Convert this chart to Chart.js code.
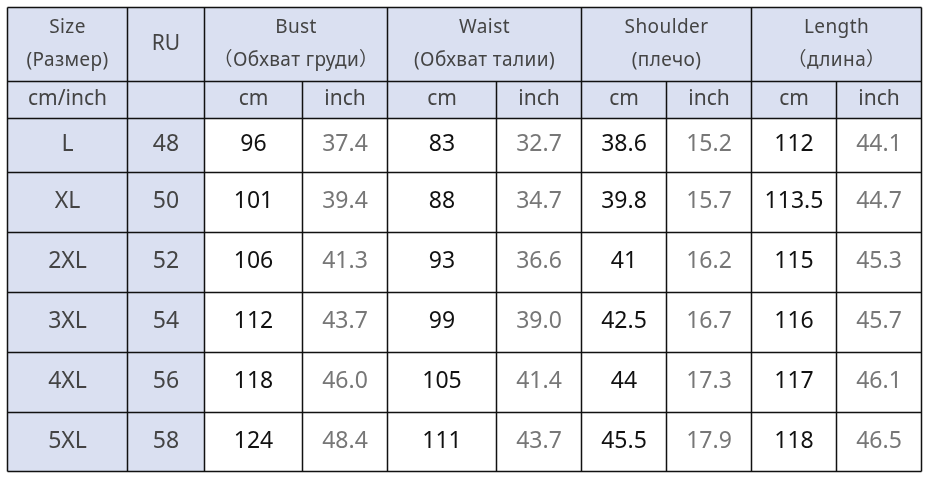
<!DOCTYPE html>
<html lang="ru">
  <head>
    <meta charset="utf-8" />
    <title>Size chart</title>
    <script src="https://cdn.jsdelivr.net/npm/chart.js"></script>
    <style>
      html, body { margin: 0; padding: 0; background: #fff; }
      canvas { display: block; }
    </style>
  </head>
  <body>
    <canvas id="table" width="932" height="481"></canvas>
    <script>
      // table content
      var groupTitles = ["Bust", "Waist", "Shoulder", "Length"];
      var groupSubtitles = ["（Обхват груди）", "(Обхват талии)", "(плечо)", "（длина）"];
      var unitLabels = ["cm", "inch"];
      var sizes = ["L", "XL", "2XL", "3XL", "4XL", "5XL"];
      var ru = [48, 50, 52, 54, 56, 58];
      var bustCm = [96, 101, 106, 112, 118, 124];
      var bustInch = [37.4, 39.4, 41.3, 43.7, 46.0, 48.4];
      var waistCm = [83, 88, 93, 99, 105, 111];
      var waistInch = [32.7, 34.7, 36.6, 39.0, 41.4, 43.7];
      var shoulderCm = [38.6, 39.8, 41, 42.5, 44, 45.5];
      var shoulderInch = [15.2, 15.7, 16.2, 16.7, 17.3, 17.9];
      var lengthCm = [112, 113.5, 115, 116, 117, 118];
      var lengthInch = [44.1, 44.7, 45.3, 45.7, 46.1, 46.5];

      var measures = [
        [bustCm, bustInch],
        [waistCm, waistInch],
        [shoulderCm, shoulderInch],
        [lengthCm, lengthInch],
      ];

      // grid edges in scale units
      var colEdges = [7.5, 127.5, 204.5, 302.5, 387.5, 496.5, 581.5, 666.5, 751.5, 836.5, 921.5];
      var rowEdges = [7.5, 81.5, 118.5, 172.5, 232.5, 292.5, 352.5, 412.5, 471.5];

      var FONT = "'Noto Sans', 'Noto Sans CJK SC', sans-serif";
      var HEAD_BG = "#dae0f1";

      var tablePlugin = {
        id: "sizeTable",
        beforeDraw: function (chart) {
          var ctx = chart.ctx;
          var xs = chart.scales.x, ys = chart.scales.y;
          var X = function (v) { return xs.getPixelForValue(v); };
          var Y = function (v) { return ys.getPixelForValue(v); };

          function fillCell(c0, c1, r0, r1, color) {
            ctx.fillStyle = color;
            ctx.fillRect(X(colEdges[c0]), Y(rowEdges[r0]),
              X(colEdges[c1]) - X(colEdges[c0]), Y(rowEdges[r1]) - Y(rowEdges[r0]));
          }
          function text(str, c0, c1, yv, size, color, spacing) {
            ctx.font = size + "px " + FONT;
            ctx.letterSpacing = (spacing || 0) + "px";
            ctx.fillStyle = color;
            ctx.textAlign = "center";
            ctx.textBaseline = "middle";
            ctx.fillText(str, (X(colEdges[c0]) + X(colEdges[c1])) / 2, Y(yv));
          }
          function cellText(str, c, r, size, color, shift) {
            text(str, c, c + 1, (rowEdges[r] + rowEdges[r + 1]) / 2 + (shift || 0), size, color);
          }
          function hLine(c0, c1, r) {
            ctx.beginPath();
            ctx.moveTo(X(colEdges[c0]), Y(rowEdges[r]));
            ctx.lineTo(X(colEdges[c1]), Y(rowEdges[r]));
            ctx.stroke();
          }
          function vLine(c, r0, r1) {
            ctx.beginPath();
            ctx.moveTo(X(colEdges[c]), Y(rowEdges[r0]));
            ctx.lineTo(X(colEdges[c]), Y(rowEdges[r1]));
            ctx.stroke();
          }

          ctx.save();
          var nCols = colEdges.length - 1, nRows = rowEdges.length - 1;

          // backgrounds
          fillCell(0, nCols, 0, 2, HEAD_BG);
          fillCell(0, 2, 2, nRows, HEAD_BG);
          fillCell(2, nCols, 2, nRows, "#ffffff");

          // header row 1
          var line1 = rowEdges[0] + 20, line2 = rowEdges[0] + 53;
          text("Size", 0, 1, line1, 19, "#444", 0.4);
          text("(Размер)", 0, 1, line2, 19, "#444", 0.4);
          text("RU", 1, 2, (rowEdges[0] + rowEdges[1]) / 2, 21, "#444");
          groupTitles.forEach(function (t, g) {
            text(t, 2 + g * 2, 4 + g * 2, line1, 19, "#444", 0.4);
            text(groupSubtitles[g], 2 + g * 2, 4 + g * 2, line2, 19, "#444", 0.4);
          });

          // header row 2
          cellText("cm/inch", 0, 1, 21, "#444", -1);
          for (var g = 0; g < measures.length; g++) {
            cellText(unitLabels[0], 2 + g * 2, 1, 21, "#444", -1);
            cellText(unitLabels[1], 3 + g * 2, 1, 21, "#444", -1);
          }

          // body
          sizes.forEach(function (s, i) {
            var r = i + 2;
            cellText(s, 0, r, 23, "#444", -1);
            cellText(String(ru[i]), 1, r, 23, "#444", -1);
            measures.forEach(function (m, g) {
              cellText(String(m[0][i]), 2 + g * 2, r, 23, "#111", -1);
              cellText(m[1][i].toFixed(1), 3 + g * 2, r, 23, "#777", -1);
            });
          });

          // grid lines
          ctx.strokeStyle = "#111";
          ctx.lineWidth = 1.5;
          for (var r = 0; r <= nRows; r++) hLine(0, nCols, r);
          [0, 1, 2, 4, 6, 8, 10].forEach(function (c) { vLine(c, 0, nRows); });
          [3, 5, 7, 9].forEach(function (c) { vLine(c, 1, nRows); });
          ctx.restore();
        },
      };

      new Chart(document.getElementById("table"), {
        type: "scatter",
        data: { datasets: [{ data: [] }] },
        options: {
          responsive: false,
          animation: false,
          events: [],
          layout: { padding: { left: 7.5, top: 7.5, right: 932 - 921.5, bottom: 481 - 471.5 } },
          plugins: { legend: { display: false }, tooltip: { enabled: false } },
          scales: {
            x: { type: "linear", display: false, min: colEdges[0], max: colEdges[colEdges.length - 1] },
            y: { type: "linear", display: false, reverse: true, min: rowEdges[0], max: rowEdges[rowEdges.length - 1] },
          },
        },
        plugins: [tablePlugin],
      });
    </script>
  </body>
</html>
